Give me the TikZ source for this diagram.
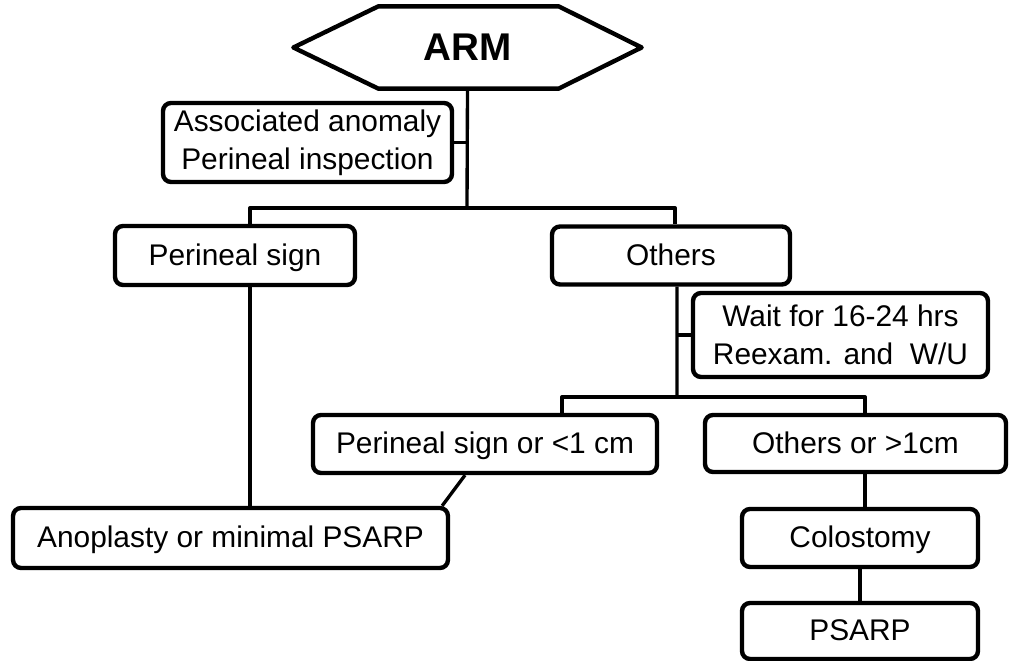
\documentclass[tikz,border=0pt]{standalone}
\usepackage{fontspec}
\setmainfont{Liberation Sans}

\begin{document}
\begin{tikzpicture}[x=0.02cm, y=-0.02cm, line width=1.9pt, line join=round,
        box/.style={draw, line width=2.5pt, rounded corners=0.16cm, align=center, inner sep=0pt,
            font=\fontsize{17}{21.5}\selectfont},
        oneline/.style={box, text height=12.2pt, text depth=1pt},
        title/.style={inner sep=0pt, font=\fontsize{22}{26}\selectfont\bfseries}]
        \useasboundingbox (0,0) rectangle (1009,661);

        \node[title, minimum width=6.9cm, minimum height=1.58cm] (arm) at (467.5,47.5) {ARM};
        \draw[line width=2.5pt] (arm.west) -- ([xshift=1.7cm]arm.north west) -- ([xshift=-1.66cm]arm.north east)
            -- (arm.east) -- ([xshift=-1.66cm]arm.south east) -- ([xshift=1.7cm]arm.south west) -- cycle;

        \node[box, minimum width=5.78cm, minimum height=1.58cm] (assoc) at (307.5,142.5) {Associated anomaly\\Perineal inspection};
        \node[oneline, minimum width=4.8cm, minimum height=1.18cm] (perineal) at (235,255.5) {Perineal sign};
        \node[oneline, minimum width=4.76cm, minimum height=1.16cm] (others) at (671,255.5) {Others};
        \node[box, minimum width=5.9cm, minimum height=1.68cm] (wait) at (840.5,335) {Wait for 16-24 hrs\\Reexam. and\ \ W/U};
        \node[oneline, minimum width=6.88cm, minimum height=1.16cm] (small) at (485,444) {Perineal sign or <1 cm};
        \node[oneline, minimum width=6.02cm, minimum height=1.14cm] (large) at (855.5,443.5) {Others or >1cm};
        \node[oneline, minimum width=8.7cm, minimum height=1.2cm] (anoplasty) at (230.5,538) {Anoplasty or minimal PSARP};
        \node[oneline, minimum width=4.72cm, minimum height=1.16cm] (colostomy) at (860,538) {Colostomy};
        \node[oneline, minimum width=4.72cm, minimum height=1.12cm] (psarp) at (860,631) {PSARP};

        \coordinate (split1) at (467,208);
        \coordinate (split2) at (677,397);
        \draw (arm.south) -- (split1);
        \draw (assoc.east) -- (assoc.east -| split1);
        \draw (split1) -| ([xshift=0.3cm]perineal.north);
        \draw (split1) -| ([xshift=0.08cm]others.north);
        \draw ([xshift=0.12cm]others.south) -- (split2);
        \draw (wait.west) -- (wait.west -| split2);
        \draw (split2) -| ([xshift=1.54cm]small.north);
        \draw (split2) -| ([xshift=0.19cm]large.north);
        \draw ([xshift=0.3cm]perineal.south) -- ([xshift=0.3cm]perineal.south |- anoplasty.north);
        \draw ([xshift=-0.4cm]small.south) -- ([xshift=-0.16cm]anoplasty.north east);
        \draw ([xshift=0.19cm]large.south) -- ([xshift=0.19cm]large.south |- colostomy.north);
        \draw (colostomy.south) -- (psarp.north);
\end{tikzpicture}
\end{document}
